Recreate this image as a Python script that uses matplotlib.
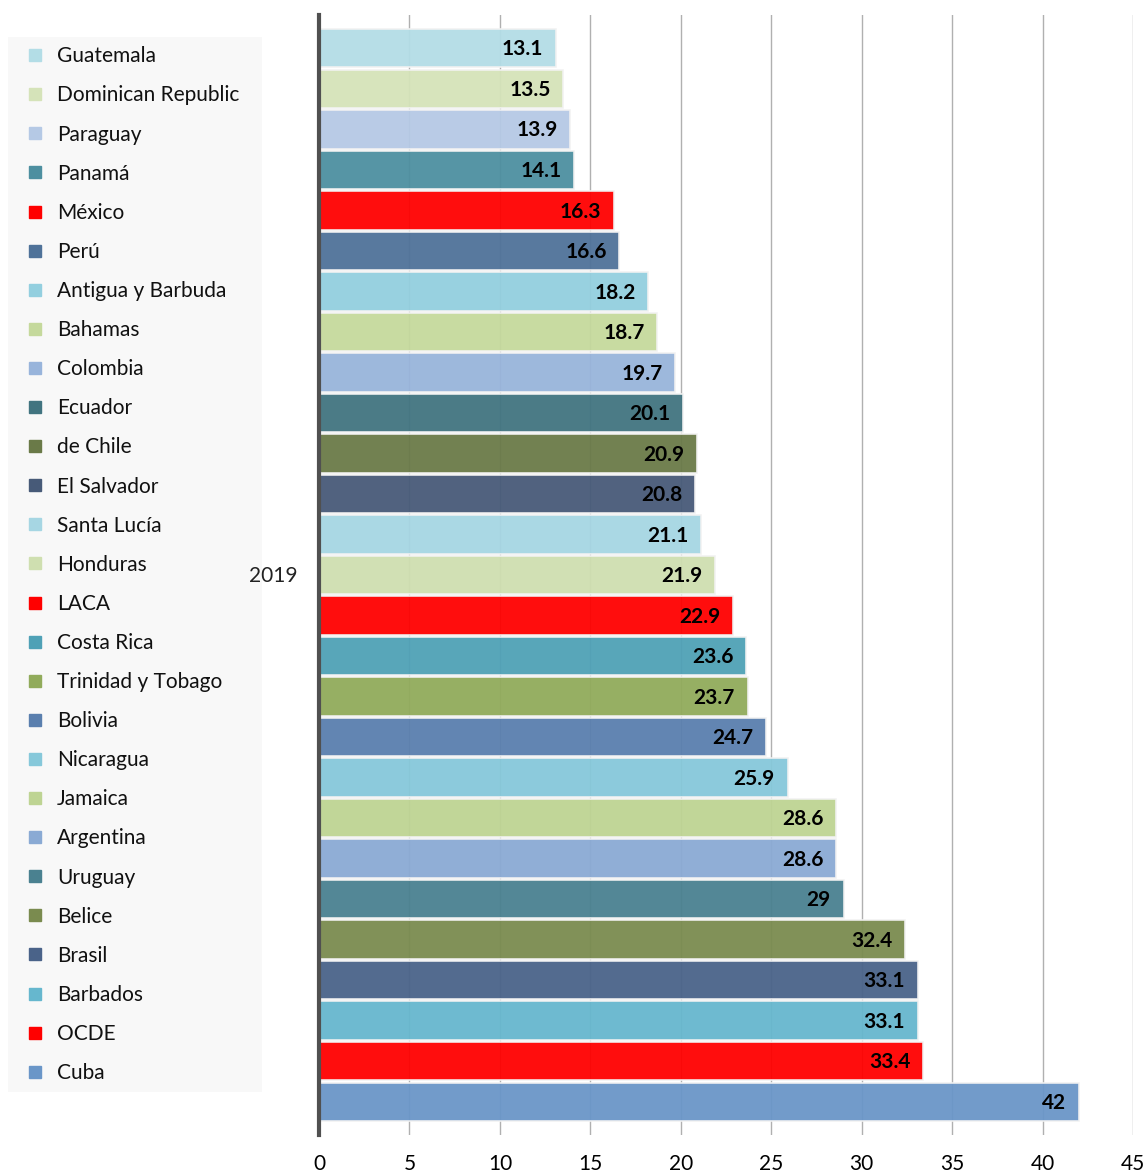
import matplotlib.pyplot as plt
from matplotlib.lines import Line2D

countries = ['Guatemala', 'Dominican Republic', 'Paraguay', 'Panamá', 'México', 'Perú',
             'Antigua y Barbuda', 'Bahamas', 'Colombia', 'Ecuador', 'de Chile', 'El Salvador',
             'Santa Lucía', 'Honduras', 'LACA', 'Costa Rica', 'Trinidad y Tobago', 'Bolivia',
             'Nicaragua', 'Jamaica', 'Argentina', 'Uruguay', 'Belice', 'Brasil', 'Barbados',
             'OCDE', 'Cuba']
values = [13.1, 13.5, 13.9, 14.1, 16.3, 16.6, 18.2, 18.7, 19.7, 20.1, 20.9, 20.8,
          21.1, 21.9, 22.9, 23.6, 23.7, 24.7, 25.9, 28.6, 28.6, 29, 32.4, 33.1, 33.1,
          33.4, 42]
labels = ['13.1', '13.5', '13.9', '14.1', '16.3', '16.6', '18.2', '18.7', '19.7', '20.1',
          '20.9', '20.8', '21.1', '21.9', '22.9', '23.6', '23.7', '24.7', '25.9', '28.6',
          '28.6', '29', '32.4', '33.1', '33.1', '33.4', '42']
colors = ['#b3dde6', '#d5e3b9', '#b5c9e5', '#4d8fa0', '#ff0000', '#4f7299',
          '#93cfdf', '#c5d99c', '#98b4db', '#417480', '#6a7a48', '#475a78',
          '#a6d6e3', '#cfdfb0', '#ff0000', '#4fa1b6', '#91ab5b', '#5a7fae',
          '#86c8da', '#bed493', '#8aaad4', '#4a8190', '#7a8b4f', '#4a6389',
          '#66b7ce', '#ff0000', '#6a96c8']
xticks = [0, 5, 10, 15, 20, 25, 30, 35, 40, 45]

plt.rcParams['font.family'] = ['Lato', 'DejaVu Sans']
fs = 15

fig = plt.figure(figsize=(11.48, 11.73), dpi=100)
ax = fig.add_axes([0.2779, 0.0324, 0.7091, 0.9548])

pos = list(range(len(countries)))
ax.barh(pos, values, height=0.95, color=colors, alpha=0.95,
        edgecolor='#f2f2f2', linewidth=1.2, zorder=2)

for p, v, lab in zip(pos, values, labels):
    ax.text(v - 0.7, p + 0.03, lab, ha='right', va='center', fontsize=fs,
            fontweight='bold', color='black', zorder=3)

ax.set_xlim(0, 45)
ax.set_ylim(26.82, -0.82)
ax.set_xticks(xticks)
ax.set_xticklabels([str(t) for t in xticks], fontsize=fs)
ax.tick_params(axis='x', length=0, pad=14)
ax.set_yticks([])
ax.grid(axis='x', color='#b0b0b0', linewidth=1, zorder=0)
ax.set_axisbelow(True)
for s in ['top', 'right', 'bottom']:
    ax.spines[s].set_visible(False)
ax.spines['left'].set_color('#505050')
ax.spines['left'].set_linewidth(3)
ax.spines['left'].set_zorder(4)

handles = [Line2D([], [], marker='s', linestyle='none', markersize=8,
                  markerfacecolor=c, markeredgecolor=c) for c in colors]
leg = fig.legend(handles, countries, loc='upper left', mode='expand',
                 bbox_to_anchor=(8 / 1148, 1 - 37 / 1173, 254 / 1148, 0),
                 fontsize=fs, frameon=True, fancybox=False, labelspacing=0.917,
                 handletextpad=0.2, handlelength=1.7, borderpad=0.45,
                 borderaxespad=0)
leg.get_frame().set_facecolor('#f7f7f7')
leg.get_frame().set_edgecolor('none')
for t in leg.get_texts():
    t.set_color('#111111')

fig.text(297 / 1148, 1 - 576 / 1173, '2019', ha='right', va='center',
         fontsize=fs, color='#222222', zorder=10)

fig.savefig('out.png', dpi=100)
